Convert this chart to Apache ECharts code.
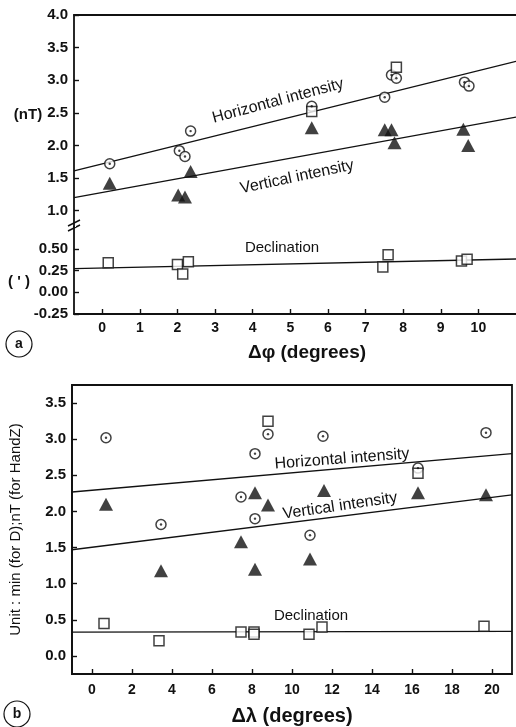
<!DOCTYPE html>
<html>
<head>
<meta charset="utf-8">
<script src="https://cdn.jsdelivr.net/npm/echarts@6/dist/echarts.min.js"></script>
<style>html,body{margin:0;padding:0;background:#fff;}#c{width:516px;height:727px;}</style>
</head>
<body>
<div id="c"></div>
<script>
// ---------- Panel (a): Δφ ----------
const aTickX = [0,1,2,3,4,5,6,7,8,9,10];
const aTickNT = [1.0,1.5,2.0,2.5,3.0,3.5,4.0];
const aTickD = [-0.25,0,0.25,0.5];
const aHx = [0.2, 2.05, 2.2, 2.35, 5.57, 7.51, 7.69, 7.82, 9.63, 9.75];
const aHy = [1.72, 1.92, 1.83, 2.22, 2.6, 2.74, 3.08, 3.03, 2.97, 2.91];
const aZx = [0.2, 2.02, 2.2, 2.35, 5.57, 7.51, 7.69, 7.77, 9.6, 9.73];
const aZy = [1.42, 1.24, 1.21, 1.6, 2.27, 2.24, 2.24, 2.04, 2.25, 2.0];
const aSqUpX = [5.57, 7.82];
const aSqUpY = [2.52, 3.2];
const aDx = [0.16, 2.0, 2.14, 2.29, 7.46, 7.6, 9.55, 9.7];
const aDy = [0.34, 0.32, 0.21, 0.35, 0.29, 0.43, 0.36, 0.38];
const aLineX = [-0.75, 11];
const aHline = [1.61, 3.29];
const aZline = [1.20, 2.435];
const aDline = [0.271, 0.383];

// ---------- Panel (b): Δλ ----------
const bTickX = [0,2,4,6,8,10,12,14,16,18,20];
const bTickY = [0,0.5,1.0,1.5,2.0,2.5,3.0,3.5];
const bHx = [0.7, 3.45, 7.45, 8.15, 8.15, 8.8, 10.9, 11.55, 16.3, 19.7];
const bHy = [3.02, 1.82, 2.2, 2.8, 1.9, 3.07, 1.67, 3.04, 2.6, 3.09];
const bZx = [0.7, 3.45, 7.45, 8.15, 8.15, 8.8, 10.9, 11.6, 16.3, 19.7];
const bZy = [2.1, 1.18, 1.58, 1.2, 2.26, 2.09, 1.34, 2.29, 2.26, 2.23];
const bSqUpX = [8.8, 16.3];
const bSqUpY = [3.25, 2.53];
const bDx = [0.6, 3.35, 7.45, 8.1, 8.1, 10.85, 11.5, 19.6];
const bDy = [0.45, 0.21, 0.33, 0.33, 0.3, 0.3, 0.4, 0.41];
const bLineX = [-1, 21];
const bHline = [2.27, 2.80];
const bZline = [1.47, 2.23];
const bDline = [0.33, 0.34];

const zip = (xs, ys) => xs.map((x, i) => [x, ys[i]]);
const FONT = 'Liberation Sans, Arial, sans-serif';
const K = '#111';

function circ(xi, yi, xs, ys) {
  return [
    { type: 'scatter', xAxisIndex: xi, yAxisIndex: yi, data: zip(xs, ys), symbol: 'circle', symbolSize: 10,
      itemStyle: { color: '#fff', borderColor: K, borderWidth: 1.5 }, z: 3 },
    { type: 'scatter', xAxisIndex: xi, yAxisIndex: yi, data: zip(xs, ys), symbol: 'circle', symbolSize: 2.4,
      itemStyle: { color: K }, z: 4 }
  ];
}
function tri(xi, yi, xs, ys) {
  return { type: 'scatter', xAxisIndex: xi, yAxisIndex: yi, data: zip(xs, ys), symbol: 'triangle', symbolSize: [14, 13],
    itemStyle: { color: K }, z: 3 };
}
function sq(xi, yi, xs, ys) {
  return { type: 'scatter', xAxisIndex: xi, yAxisIndex: yi, data: zip(xs, ys), symbol: 'rect', symbolSize: 10,
    itemStyle: { color: '#fff', borderColor: K, borderWidth: 1.5 }, z: 3 };
}
function line(xi, yi, xs, ys) {
  return { type: 'line', xAxisIndex: xi, yAxisIndex: yi, data: zip(xs, ys), symbol: 'none',
    lineStyle: { color: K, width: 1.4 }, z: 2, silent: true };
}

const tickLbl = { color: K, fontFamily: FONT, fontWeight: 'bold' };

const option = {
  animation: false,
  backgroundColor: '#fff',
  grid: [
    { left: 74, right: 0, top: 15, height: 212 },
    { left: 74, right: 0, top: 227, height: 87 },
    { left: 68, right: 4, top: 385, height: 292, show: true, borderColor: K, borderWidth: 1.8 }
  ],
  xAxis: [
    { gridIndex: 0, type: 'value', min: -0.75, max: 11, position: 'top',
      axisLine: { show: true, lineStyle: { color: K, width: 1.8 } }, axisTick: { show: false },
      axisLabel: { show: false }, splitLine: { show: false } },
    { gridIndex: 1, type: 'value', min: -0.75, max: 11,
      axisLine: { show: true, onZero: false, lineStyle: { color: K, width: 1.8 } },
      axisTick: { show: true, inside: true, length: 5, customValues: aTickX, lineStyle: { color: K, width: 1.4 } },
      axisLabel: Object.assign({ fontSize: 14, margin: 7, customValues: aTickX, formatter: v => String(v) }, tickLbl),
      splitLine: { show: false },
      name: 'Δφ (degrees)', nameLocation: 'middle', nameGap: 29,
      nameTextStyle: { color: K, fontFamily: FONT, fontWeight: 'bold', fontSize: 19, padding: [0, 0, 0, 24] } },
    { gridIndex: 2, type: 'value', min: -1, max: 21,
      axisLine: { show: true, onZero: false, lineStyle: { color: K, width: 1.8 } },
      axisTick: { show: true, inside: true, length: 5, customValues: bTickX, lineStyle: { color: K, width: 1.4 } },
      axisLabel: Object.assign({ fontSize: 14, margin: 9, customValues: bTickX, formatter: v => String(v) }, tickLbl),
      splitLine: { show: false },
      name: 'Δλ (degrees)', nameLocation: 'middle', nameGap: 32,
      nameTextStyle: { color: K, fontFamily: FONT, fontWeight: 'bold', fontSize: 20 } }
  ],
  yAxis: [
    { gridIndex: 0, type: 'value', min: 0.75, max: 4.0,
      axisLine: { show: true, onZero: false, lineStyle: { color: K, width: 1.8 } },
      axisTick: { show: true, inside: true, length: 5, customValues: aTickNT, lineStyle: { color: K, width: 1.4 } },
      axisLabel: Object.assign({ fontSize: 15, margin: 6, customValues: aTickNT, formatter: v => v.toFixed(1) }, tickLbl),
      splitLine: { show: false } },
    { gridIndex: 1, type: 'value', min: -0.25, max: 0.75,
      axisLine: { show: true, onZero: false, lineStyle: { color: K, width: 1.8 } },
      axisTick: { show: true, inside: true, length: 5, customValues: aTickD, lineStyle: { color: K, width: 1.4 } },
      axisLabel: Object.assign({ fontSize: 15, margin: 6, customValues: aTickD, formatter: v => v.toFixed(2) }, tickLbl),
      splitLine: { show: false } },
    { gridIndex: 2, type: 'value', min: -0.25, max: 3.75,
      axisLine: { show: true, onZero: false, lineStyle: { color: K, width: 1.8 } },
      axisTick: { show: true, inside: true, length: 5, customValues: bTickY, lineStyle: { color: K, width: 1.4 } },
      axisLabel: Object.assign({ fontSize: 15, margin: 6, customValues: bTickY, formatter: v => v.toFixed(1) }, tickLbl),
      splitLine: { show: false },
      name: 'Unit : min (for D);nT (for HandZ)', nameLocation: 'middle', nameGap: 41, nameRotate: 90,
      nameTextStyle: { color: K, fontFamily: FONT, fontSize: 15, padding: [0, 0, 8, 0] } }
  ],
  series: [
    line(0, 0, aLineX, aHline), line(0, 0, aLineX, aZline), line(1, 1, aLineX, aDline),
    ...circ(0, 0, aHx, aHy), tri(0, 0, aZx, aZy), sq(0, 0, aSqUpX, aSqUpY), sq(1, 1, aDx, aDy),
    line(2, 2, bLineX, bHline), line(2, 2, bLineX, bZline), line(2, 2, bLineX, bDline),
    ...circ(2, 2, bHx, bHy), tri(2, 2, bZx, bZy), sq(2, 2, bSqUpX, bSqUpY), sq(2, 2, bDx, bDy)
  ],
  graphic: [
    // axis break marks
    { type: 'line', shape: { x1: 68, y1: 226, x2: 80, y2: 220 }, style: { stroke: K, lineWidth: 1.4 } },
    { type: 'line', shape: { x1: 68, y1: 231, x2: 80, y2: 225 }, style: { stroke: K, lineWidth: 1.4 } },
    { type: 'rect', shape: { x: 72, y: 225, width: 4, height: 2 }, style: { fill: '#fff' } },
    // unit labels
    { type: 'text', x: 28, y: 115, style: { text: '(nT)', font: 'bold 15px ' + FONT, fill: K, align: 'center', verticalAlign: 'middle' } },
    { type: 'text', x: 19, y: 282, style: { text: "( ' )", font: 'bold 15px ' + FONT, fill: K, align: 'center', verticalAlign: 'middle' } },
    // annotations panel a
    { type: 'text', x: 278, y: 101, rotation: 15 * Math.PI / 180, style: { text: 'Horizontal intensity', font: '16px ' + FONT, fill: K, align: 'center', verticalAlign: 'middle' } },
    { type: 'text', x: 297, y: 177, rotation: 12 * Math.PI / 180, style: { text: 'Vertical intensity', font: '16px ' + FONT, fill: K, align: 'center', verticalAlign: 'middle' } },
    { type: 'text', x: 282, y: 248, style: { text: 'Declination', font: '15px ' + FONT, fill: K, align: 'center', verticalAlign: 'middle' } },
    // annotations panel b
    { type: 'text', x: 342, y: 459, rotation: 4.4 * Math.PI / 180, style: { text: 'Horizontal intensity', font: '16px ' + FONT, fill: K, align: 'center', verticalAlign: 'middle' } },
    { type: 'text', x: 340, y: 506, rotation: 8.4 * Math.PI / 180, style: { text: 'Vertical intensity', font: '16px ' + FONT, fill: K, align: 'center', verticalAlign: 'middle' } },
    { type: 'text', x: 311, y: 616, style: { text: 'Declination', font: '15px ' + FONT, fill: K, align: 'center', verticalAlign: 'middle' } },
    // panel letters
    { type: 'circle', shape: { cx: 19, cy: 344, r: 13 }, style: { fill: '#fff', stroke: K, lineWidth: 1.2 } },
    { type: 'text', x: 19, y: 344, style: { text: 'a', font: 'bold 14px ' + FONT, fill: K, align: 'center', verticalAlign: 'middle' } },
    { type: 'circle', shape: { cx: 17, cy: 714, r: 13 }, style: { fill: '#fff', stroke: K, lineWidth: 1.2 } },
    { type: 'text', x: 17, y: 714, style: { text: 'b', font: 'bold 14px ' + FONT, fill: K, align: 'center', verticalAlign: 'middle' } }
  ]
};
const chart = echarts.init(document.getElementById('c'), null, { renderer: 'canvas' });
chart.setOption(option);
</script>
</body>
</html>
